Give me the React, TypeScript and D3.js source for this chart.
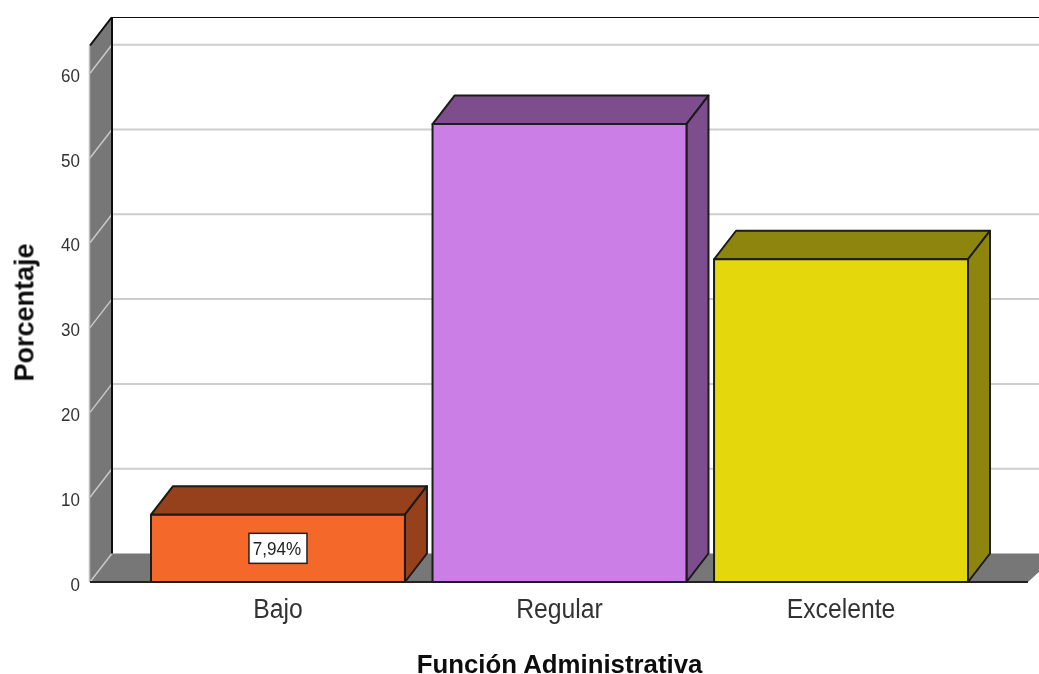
import React from "react";
import * as d3 from "d3";

const categories = ["Bajo", "Regular", "Excelente"];
const percentages = [7.94, 54.0, 38.06];
const frontColors = ["#F4672A", "#CB7FE6", "#E4D80E"];
const sideColors = ["#973F1A", "#7D4E8E", "#8D850A"];
const yTicks = [0, 10, 20, 30, 40, 50, 60];
const dataLabels = ["7,94%", "", ""];

const W = 1039, H = 674;
const DX = 22, DY = 28.5;
const Y0 = 582;
const FONT = "'Liberation Sans', Arial, sans-serif";

export default function App() {
  const y = d3.scaleLinear().domain([0, 60]).range([Y0, Y0 - 508.8]);
  const x = d3.scaleBand<string>().domain(categories).range([151, 968]).paddingInner(0.098).paddingOuter(0);
  const wallL = 90, wallR = 112, topBack = 17, topFront = topBack + DY;
  const floorRightFront = 1028;
  const line = d3.line();
  const poly = (pts: [number, number][]) => line(pts)! + "Z";
  return (
    <svg width={W} height={H} viewBox={`0 0 ${W} ${H}`} style={{ position: "absolute", left: 0, top: 0, background: "#fff" }}>
      <defs>
        <filter id="soft" x="0" y="0" width="100%" height="100%">
          <feGaussianBlur stdDeviation="0.55" />
        </filter>
      </defs>
      <g filter="url(#soft)">
        {/* floor */}
        <path d={poly([[wallL, Y0], [wallR, Y0 - DY], [W + 20, Y0 - DY], [floorRightFront, Y0]])} fill="#777777" />
        {/* back-wall grid */}
        {yTicks.slice(1).map((t) => (
          <line key={t} x1={wallR} x2={W} y1={y(t) - DY} y2={y(t) - DY} stroke="#CDCDCD" strokeWidth={2} />
        ))}
        {/* side wall */}
        <path d={poly([[wallL, topFront], [wallR, topBack], [wallR, Y0 - DY], [wallL, Y0]])} fill="#777777" />
        {yTicks.map((t) => (
          <line key={t} x1={wallL} x2={wallR} y1={y(t)} y2={y(t) - DY} stroke="#C8C8C8" strokeWidth={1.5} />
        ))}
        <line x1={wallL - 0.5} x2={wallL - 0.5} y1={topFront} y2={Y0} stroke="#BDBDBD" strokeWidth={1.5} />
        {/* frame lines */}
        <path d={`M${wallL},${topFront}L${wallR},${topBack}H${W}`} fill="none" stroke="#111" strokeWidth={2} />
        <line x1={wallR} x2={wallR} y1={topBack} y2={Y0 - DY} stroke="#111" strokeWidth={2} />
        <line x1={wallL} x2={floorRightFront} y1={Y0} y2={Y0} stroke="#222" strokeWidth={2} />
        {/* bars */}
        {categories.map((c, i) => {
          const x0 = x(c)!, x1 = x0 + x.bandwidth(), yt = y(percentages[i]);
          return (
            <g key={c} stroke="#1a1a1a" strokeWidth={2} strokeLinejoin="round">
              <path d={poly([[x0, yt], [x0 + DX, yt - DY], [x1 + DX, yt - DY], [x1, yt]])} fill={sideColors[i]} />
              <path d={poly([[x1, yt], [x1 + DX, yt - DY], [x1 + DX, Y0 - DY], [x1, Y0]])} fill={sideColors[i]} />
              <rect x={x0} y={yt} width={x.bandwidth()} height={Y0 - yt} fill={frontColors[i]} />
            </g>
          );
        })}
        {/* data label */}
        {categories.map((c, i) =>
          dataLabels[i] ? (
            <g key={c}>
              <rect x={x(c)! + x.bandwidth() / 2 - 29} y={(y(percentages[i]) + Y0) / 2 - 15} width={58} height={30} fill="#fff" stroke="#222" strokeWidth={1.5} />
              <text transform={`translate(${x(c)! + x.bandwidth() / 2 - 1},${(y(percentages[i]) + Y0) / 2 + 6.5}) scale(0.95,1)`} textAnchor="middle" fontFamily={FONT} fontSize={18} fill="#222">
                {dataLabels[i]}
              </text>
            </g>
          ) : null
        )}
        {/* tick labels */}
        {yTicks.map((t) => (
          <text key={t} transform={`translate(80,${y(t) + 8.5}) scale(0.92,1)`} textAnchor="end" fontFamily={FONT} fontSize={18.5} fill="#333">
            {t}
          </text>
        ))}
        {categories.map((c) => (
          <text key={c} transform={`translate(${x(c)! + x.bandwidth() / 2},617.5) scale(0.9,1)`} textAnchor="middle" fontFamily={FONT} fontSize={27.5} fill="#333">
            {c}
          </text>
        ))}
        <text x={559.5} y={672.5} textAnchor="middle" fontFamily={FONT} fontSize={25.8} fontWeight="bold" fill="#111">
          Función Administrativa
        </text>
        <text transform="translate(33.5,312.5) rotate(-90)" textAnchor="middle" fontFamily={FONT} fontSize={27} fontWeight="bold" fill="#111">
          Porcentaje
        </text>
      </g>
    </svg>
  );
}
